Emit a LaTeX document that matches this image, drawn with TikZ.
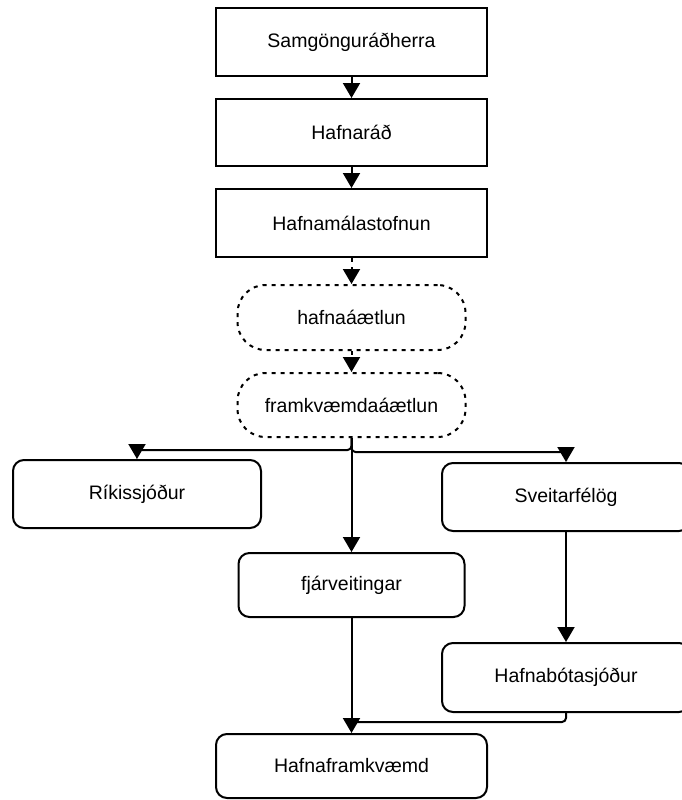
\documentclass[tikz,border=0pt]{standalone}
\usepackage{fontspec}
\setmainfont{Liberation Sans}
\usetikzlibrary{arrows.meta,calc}
\begin{document}
\begin{tikzpicture}[x=1pt,y=-1pt,
  every node/.style={font=\fontsize{19.5}{23}\selectfont, inner sep=0pt},
  sq/.style={draw, line width=2pt, rectangle, minimum width=271pt},
  rbox/.style={draw, line width=2pt, rectangle, rounded corners=11pt},
  dbox/.style={draw, line width=2pt, rectangle, rounded corners=28pt, dash pattern=on 4pt off 5pt, minimum width=228pt},
  conn/.style={line width=2pt, -{Triangle[width=17pt,length=15pt]}},
  dconn/.style={conn, dash pattern=on 4pt off 5pt},
  link/.style={line width=2pt}
]
\clip (0,0) rectangle (682,800);
\useasboundingbox (0,0) rectangle (682,800);

\node[sq, minimum height=68pt] (sam) at (351.5,42) {Samgönguráðherra};
\node[sq, minimum height=67pt] (hr) at (351.5,132.5) {Hafnaráð};
\node[sq, minimum height=68pt] (hm) at (351.5,223) {Hafnamálastofnun};
\node[dbox, minimum height=65pt] (ha) at (351.5,317.5) {hafnaáætlun};
\node[dbox, minimum height=64pt] (fa) at (351.5,405) {framkvæmdaáætlun};
\node[rbox, minimum width=248pt, minimum height=68pt] (rk) at (137,494) {Ríkissjóður};
\node[rbox, minimum width=248pt, minimum height=68pt] (sv) at (566,497) {Sveitarfélög};
\node[rbox, minimum width=226pt, minimum height=64pt] (fj) at (351.5,585) {fjárveitingar};
\node[rbox, minimum width=248pt, minimum height=69pt] (hb) at (566,677.5) {Hafnabótasjóður};
\node[rbox, minimum width=271pt, minimum height=64pt] (hf) at (351.5,766) {Hafnaframkvæmd};

\draw[conn] (sam) -- (hr);
\draw[conn] (hr) -- (hm);
\draw[dconn] (hm) -- (ha);
\draw[dconn] (ha) -- (fa);
\draw[conn] (fa) -- (fj);
\draw[conn, rounded corners=4pt] (fa.south) -- ++(0,12) -| (rk.north);
\draw[conn, rounded corners=4pt] (fa.south) -- ++(0,14) -| (sv.north);
\draw[conn] (sv) -- (hb);
\draw[conn] (fj) -- (hf);
\draw[link, rounded corners=4pt] (hb.south) |- ($(hf.north)+(0,-11)$);
\end{tikzpicture}
\end{document}
